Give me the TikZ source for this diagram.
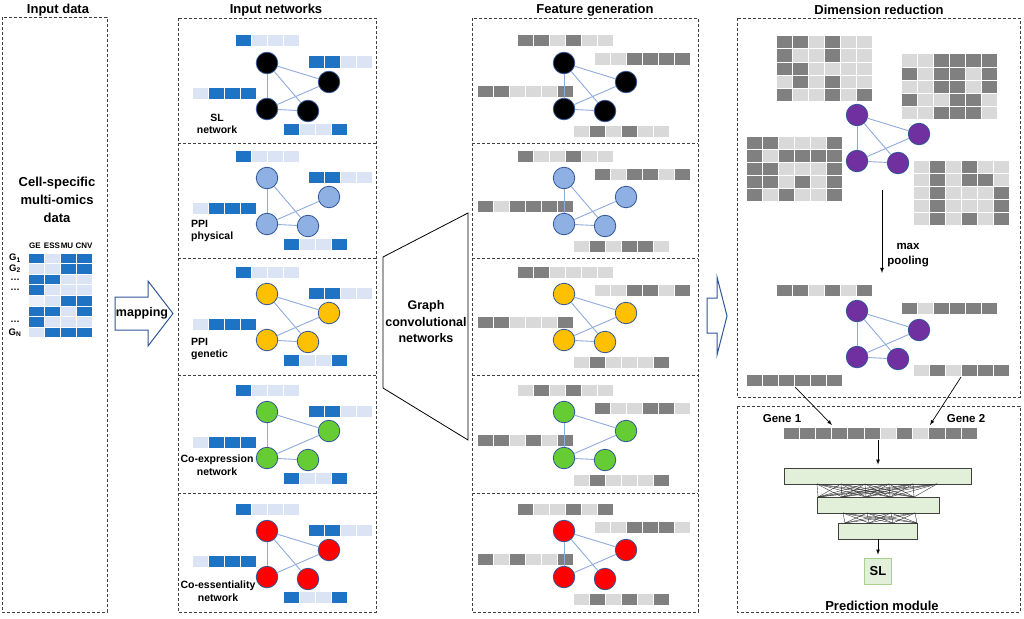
\documentclass[tikz,border=0pt]{standalone}
\usepackage{fontspec}
\setmainfont{Liberation Sans}
\definecolor{bd}{RGB}{31,115,196}
\definecolor{bl}{RGB}{218,228,244}
\definecolor{bv}{RGB}{236,241,249}
\definecolor{gd}{RGB}{128,128,128}
\definecolor{gl}{RGB}{217,217,217}
\definecolor{nodeline}{RGB}{47,85,151}
\definecolor{edgeblue}{RGB}{143,170,220}
\definecolor{nblue}{RGB}{142,176,226}
\definecolor{nyellow}{RGB}{255,192,0}
\definecolor{ngreen}{RGB}{102,204,51}
\definecolor{nred}{RGB}{255,0,0}
\definecolor{npurple}{RGB}{112,48,160}
\definecolor{lgreen}{RGB}{226,240,217}
\definecolor{sledge}{RGB}{169,209,142}
\definecolor{boxline}{RGB}{64,64,64}

\tikzset{
	panel/.style={draw=boxline, line width=0.9pt, dash pattern=on 3pt off 2pt},
	gnode/.style={circle, draw=nodeline, line width=0.8pt, minimum size=21.5pt, inner sep=0pt},
	gedge/.style={draw=edgeblue, line width=0.9pt},
	heading/.style={font=\fontsize{13}{15}\selectfont\bfseries},
	netlabel/.style={font=\fontsize{10.5}{12.5}\selectfont\bfseries, align=center, inner sep=0pt},
	fclayer/.style={draw=boxline, fill=lgreen, line width=0.8pt, inner sep=0pt},
	mesh/.style={draw=black!80, line width=0.4pt},
	bigarrow/.style={draw=nodeline, line width=1pt, line join=miter}
}

\newcommand\cells[5]{%
	\edef\celllist{#5}%
	\foreach \cc [count=\ci from 0] in \celllist
		\filldraw[fill=\cc, draw=white, line width=1pt] ({#1+#3*\ci},{#2}) rectangle +(#3,#4);
}
\newcommand\netgraph[5]{%
	\node[gnode, fill=#4] (#1a) at (#2,#3) {};
	\node[gnode, fill=#4] (#1b) at ({#2+62},{#3+19}) {};
	\node[gnode, fill=#4] (#1c) at (#2,{#3+46}) {};
	\node[gnode, fill=#4] (#1d) at ({#2+41},{#3+48}) {};
	\foreach \ea/\eb in {#5} \draw[gedge] (#1\ea) -- (#1\eb);
}
\newcommand\inpanel[4]{%
	\cells{235}{#2-28}{16}{12}{bd,bl,bl,bl}
	\cells{308}{#2-7}{16}{12}{bd,bd,bl,bl}
	\cells{192}{#2+24}{16}{12}{bl,bd,bd,bd}
	\cells{283}{#2+60}{16}{12}{bd,bl,bl,bd}
	\netgraph{#1}{267}{#2}{#3}{#4}
}
\newcommand\fgpanel[8]{%
	\cells{517}{#2-28}{16}{12}{#5}
	\cells{594}{#2-10}{16}{12}{#6}
	\cells{477}{#2+22}{16}{12}{#7}
	\cells{573}{#2+62}{16}{12}{#8}
	\netgraph{#1}{564}{#2}{#3}{#4}
}

\begin{document}
\begin{tikzpicture}[x=1pt, y=-1pt]
		\useasboundingbox (0,0) rectangle (1024,618);
		\node[heading] (t-in) at (58,10) {Input data};
		\node[heading] (t-net) at (276,10) {Input networks};
		\node[heading] (t-fg) at (595,10) {Feature generation};
		\node[heading] (t-dr) at (879,10) {Dimension reduction};
		\draw[panel] (2,17) rectangle (107,612);
		\draw[panel] (178,18) rectangle (376,612);
		\draw[panel] (472,18) rectangle (698,612);
		\draw[panel] (737,18) rectangle (1020,397);
		\draw[panel] (737,406) rectangle (1020,612);
		\foreach \yy in {143,258,375,493} {
			\draw[panel] (178,\yy) -- (376,\yy);
			\draw[panel] (472,\yy) -- (698,\yy);
		};
		% input data
		\node[heading, align=center, font=\fontsize{13}{18}\selectfont\bfseries] (omics) at (57,200) {Cell-specific\\multi-omics\\data};
		\foreach \hd/\hx in {GE/35, ESS/52, MU/67, CNV/84}
			\node[font=\fontsize{8}{9}\selectfont\bfseries, inner sep=0pt] (h-\hd) at (\hx,246) {\hd};
		\foreach \rw [count=\k from 0] in {{bd,bl,bd,bd},{bl,bl,bd,bd},{bd,bd,bl,bl},{bd,bl,bl,bl},{bv,bl,bd,bd},{bd,bd,bl,bd},{bd,bl,bl,bl},{bl,bd,bd,bd}}
			\cells{28}{253+10.6*\k}{16}{10.6}{\rw};
		\foreach \gl/\k in {G\textsubscript{1}/0, G\textsubscript{2}/1, \ldots/2, \ldots/3, \ldots/6, G\textsubscript{N}/7}
			\node[font=\fontsize{9.5}{10}\selectfont\bfseries, inner sep=0pt] (g-\k) at (15,{258.3+10.6*\k}) {\gl};
		\draw[bigarrow] (115,297) -- (148,297) -- (148,281) -- (173,313.5) -- (148,346) -- (148,330) -- (115,330) -- cycle;
		\node[font=\fontsize{12.5}{14}\selectfont\bfseries] (mapping) at (142,313) {mapping};
		% input networks
		\inpanel{sl}{63}{black}{a/b,a/c,a/d,c/b,c/d}
		\inpanel{phys}{178}{nblue}{a/c,a/d,c/b,c/d}
		\inpanel{gen}{294}{nyellow}{a/b,a/d,c/b,c/d}
		\inpanel{coex}{412}{ngreen}{a/b,a/c,c/b,c/d}
		\inpanel{coes}{531}{nred}{a/b,a/c,a/d,c/b}
		\node[netlabel] (lab-sl) at (217,124) {SL\\network};
		\node[netlabel, align=left, anchor=west] (lab-phys) at (191,231) {PPI\\physical};
		\node[netlabel, align=left, anchor=west] (lab-gen) at (191,349) {PPI\\genetic};
		\node[netlabel] (lab-coex) at (217,465) {Co-expression\\network};
		\node[netlabel] (lab-coes) at (218,591) {Co-essentiality\\network};
		% graph convolution
		\draw[line width=0.8pt] (383,257) -- (468,213) -- (468,440) -- (383,388) -- cycle;
		\node[align=center, font=\fontsize{12.5}{16.5}\selectfont\bfseries] (gcn) at (426,322) {Graph\\convolutional\\networks};
		% feature generation
		\fgpanel{fsl}{63}{black}{a/b,a/c,a/d,c/b,c/d}{gd,gd,gl,gd,gl,gl}{gl,gl,gd,gd,gd,gd}{gd,gd,gl,gl,gl,gd}{gl,gd,gl,gd,gl,gl}
		\fgpanel{fphys}{178}{nblue}{a/c,a/d,c/b,c/d}{gd,gl,gl,gd,gl,gl}{gd,gl,gd,gd,gl,gd}{gd,gl,gd,gd,gd,gd}{gl,gd,gl,gd,gd,gl}
		\fgpanel{fgen}{294}{nyellow}{a/b,a/d,c/b,c/d}{gd,gd,gl,gl,gl,gl}{gl,gl,gd,gd,gl,gd}{gd,gd,gl,gl,gl,gd}{gl,gd,gl,gl,gl,gd}
		\fgpanel{fcoex}{412}{ngreen}{a/b,a/c,c/b,c/d}{gl,gd,gl,gd,gl,gl}{gd,gl,gl,gd,gd,gl}{gd,gd,gl,gd,gl,gd}{gl,gd,gl,gl,gl,gd}
		\fgpanel{fcoes}{531}{nred}{a/b,a/c,a/d,c/b}{gd,gl,gl,gd,gl,gd}{gl,gl,gd,gd,gd,gl}{gd,gl,gd,gl,gl,gd}{gl,gd,gl,gd,gl,gd}
		\draw[bigarrow] (707,298) -- (717,298) -- (717,277) -- (727,316) -- (717,355) -- (717,333) -- (707,333) -- cycle;
		% dimension reduction
		\foreach \rw [count=\k from 0] in {{gd,gd,gl,gd,gl,gl},{gd,gl,gl,gd,gl,gl},{gd,gd,gl,gl,gl,gl},{gl,gd,gl,gd,gl,gl},{gd,gl,gl,gd,gl,gd}}
			\cells{776}{36+13*\k}{16}{13}{\rw};
		\foreach \rw [count=\k from 0] in {{gl,gl,gd,gd,gd,gd},{gd,gl,gd,gd,gl,gd},{gl,gl,gd,gd,gl,gd},{gd,gl,gl,gd,gd,gl},{gl,gl,gd,gd,gd,gl}}
			\cells{901}{54+13*\k}{16}{13}{\rw};
		\foreach \rw [count=\k from 0] in {{gd,gd,gl,gl,gl,gd},{gd,gl,gd,gd,gd,gd},{gd,gd,gl,gl,gl,gd},{gd,gd,gl,gd,gl,gd},{gd,gl,gd,gl,gl,gd}}
			\cells{746}{136+13*\k}{16}{13}{\rw};
		\foreach \rw [count=\k from 0] in {{gl,gd,gl,gd,gl,gl},{gl,gd,gl,gd,gd,gl},{gl,gd,gl,gl,gl,gd},{gl,gd,gl,gl,gl,gd},{gl,gd,gl,gd,gl,gd}}
			\cells{913}{160+13*\k}{16}{13}{\rw};
		\netgraph{dr}{857}{115}{npurple}{a/b,a/c,a/d,c/b,c/d}
		\coordinate (pool-top) at (882,190);
		\coordinate (pool-end) at (882,273);
		\draw[-latex, line width=0.8pt] (pool-top) -- (pool-end);
		\node[align=center, font=\fontsize{11.5}{15}\selectfont\bfseries] (pool) at (908,255) {max\\pooling};
		\cells{776}{284}{16}{12}{gd,gd,gl,gd,gl,gd}
		\cells{901}{302}{16}{12}{gd,gl,gd,gd,gd,gd}
		\cells{746}{374}{16}{12}{gd,gd,gd,gd,gd,gd}
		\cells{913}{364}{16}{12}{gl,gd,gl,gd,gd,gd}
		\netgraph{mp}{857}{311}{npurple}{a/b,a/c,a/d,c/b,c/d}
		% prediction module
		\coordinate (g1-from) at (795,387);
		\coordinate (g1-to) at (832,425);
		\coordinate (g2-from) at (961,377);
		\coordinate (g2-to) at (930,425);
		\draw[-latex, line width=0.7pt] (g1-from) -- (g1-to);
		\draw[-latex, line width=0.7pt] (g2-from) -- (g2-to);
		\node[font=\fontsize{11.5}{13}\selectfont\bfseries] (gene1) at (782,419) {Gene 1};
		\node[font=\fontsize{11.5}{13}\selectfont\bfseries] (gene2) at (966,419) {Gene 2};
		\cells{783}{427}{16.2}{12}{gd,gd,gd,gd,gd,gd,gl,gd,gl,gd,gd,gd}
		\coordinate (gbar) at (878,440);
		\node[fclayer, minimum width=187pt, minimum height=16pt] (fc1) at (878,476) {};
		\node[fclayer, minimum width=122pt, minimum height=16pt] (fc2) at (878,505) {};
		\node[fclayer, minimum width=79pt, minimum height=16pt] (fc3) at (878,531) {};
		\node[fclayer, draw=sledge, minimum width=27pt, minimum height=26pt, font=\fontsize{13}{15}\selectfont\bfseries] (slout) at (878,571) {SL};
		\foreach \i in {0,...,5}
			\foreach \j in {0,...,4}
				\draw[mesh] ({817+24*\i},484) -- ({818+24*\j},497);
		\foreach \i in {0,...,3}
			\foreach \j in {0,...,3}
				\draw[mesh] ({843+24*\i},513) -- ({845+24*\j},523);
		\draw[-latex, line width=0.7pt, shorten >=3pt] (gbar) -- (fc1);
		\draw[-latex, line width=0.7pt, shorten >=3pt] (fc3) -- (slout);
		\node[heading] (t-pred) at (882,606) {Prediction module};
	\end{tikzpicture}
\end{document}
